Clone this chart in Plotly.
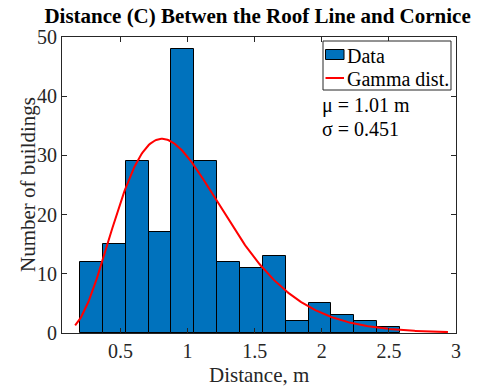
import math
import numpy as np
import plotly.graph_objects as go

# Histogram of measured roof-line-to-cornice distances
bin_start = 0.199
bin_width = 0.1702
counts = [12, 15, 29, 17, 48, 29, 12, 11, 13, 2, 5, 3, 2, 1]

# Fitted gamma distribution (mean and standard deviation)
mu = 1.01
sigma = 0.451

x_ticks = [0.5, 1, 1.5, 2, 2.5, 3]
y_ticks = [0, 10, 20, 30, 40, 50]

centers = [bin_start + (i + 0.5) * bin_width for i in range(len(counts))]
n_total = sum(counts)

# Gamma pdf scaled to the histogram counts
k = (mu / sigma) ** 2
theta = sigma ** 2 / mu
xs = np.linspace(0.162, 2.94, 300)
log_pdf = (k - 1) * np.log(xs) - xs / theta - math.lgamma(k) - k * math.log(theta)
ys = np.exp(log_pdf) * n_total * bin_width

serif = "Liberation Serif, Times New Roman, serif"
axis_col = "#262626"
bar_col = "#0072BD"
fit_col = "#FF0000"

# Plot-area geometry in pixels, used to place the compact legend box
W, H = 486, 388
ML, MR, MT, MB = 62, 30, 37, 55
PW, PH = W - ML - MR, H - MT - MB


def px(x):
    return (x - ML) / PW


def py(y):
    return (H - MB - y) / PH


fig = go.Figure()
fig.add_trace(go.Bar(
    x=centers, y=counts, width=bin_width,
    marker=dict(color=bar_col, line=dict(color="black", width=1)),
    name="Data", showlegend=False,
))
fig.add_trace(go.Scatter(
    x=xs, y=ys, mode="lines",
    line=dict(color=fit_col, width=2),
    name="Gamma dist.", showlegend=False,
))

# Legend box with a bar swatch and a line sample
fig.add_shape(type="rect", xref="paper", yref="paper",
              x0=px(323), x1=px(451), y0=py(90), y1=py(41),
              line=dict(color=axis_col, width=1), fillcolor="white", layer="above")
fig.add_shape(type="rect", xref="paper", yref="paper",
              x0=px(325.5), x1=px(344), y0=py(59.5), y1=py(49.5),
              line=dict(color="black", width=1), fillcolor=bar_col, layer="above")
fig.add_shape(type="line", xref="paper", yref="paper",
              x0=px(325.5), x1=px(344), y0=py(78), y1=py(78),
              line=dict(color=fit_col, width=2), layer="above")
for label, ycen in [("Data", 55.5), ("Gamma dist.", 78.5)]:
    fig.add_annotation(
        x=px(344.5), y=py(ycen), xref="paper", yref="paper",
        xanchor="left", yanchor="middle", showarrow=False,
        text=label, font=dict(family=serif, size=20, color="black"),
    )

# Fit statistics written under the legend
for text, ycen in [(f"μ = {mu:.2f} m", 105.5), (f"σ = {sigma:.3f}", 128.5)]:
    fig.add_annotation(
        x=px(320), y=py(ycen), xref="paper", yref="paper",
        xanchor="left", yanchor="middle", align="left", showarrow=False,
        text=text, font=dict(family=serif, size=20, color="black"),
    )

# Axis titles placed as text so the plot area keeps its fixed size
fig.add_annotation(
    x=0.5, y=py(375), xref="paper", yref="paper",
    xanchor="center", yanchor="middle", showarrow=False,
    text="Distance, m", font=dict(family=serif, size=21, color=axis_col),
)
fig.add_annotation(
    x=px(28), y=0.5, xref="paper", yref="paper",
    xanchor="center", yanchor="middle", showarrow=False, textangle=-90,
    text="Number of buildings", font=dict(family=serif, size=21, color=axis_col),
)

fig.update_layout(
    width=W, height=H,
    margin=dict(l=ML, r=MR, t=MT, b=MB),
    paper_bgcolor="white", plot_bgcolor="white",
    bargap=0,
    title=dict(
        text="<b>Distance (C) Betwen the Roof Line and Cornice</b>",
        x=0.53, xanchor="center", y=0.959, yanchor="middle",
        font=dict(family=serif, size=21, color="black"),
    ),
    font=dict(family=serif, size=20, color=axis_col),
    showlegend=False,
)

fig.update_xaxes(
    range=[0.064, 3.0], tickvals=x_ticks, ticktext=[f"{v:g}" for v in x_ticks],
    ticks="inside", ticklen=5, tickcolor=axis_col,
    showline=True, linecolor=axis_col, linewidth=1, mirror="allticks",
    showgrid=False, zeroline=False, automargin=False,
    tickfont=dict(family=serif, size=20, color=axis_col),
)
fig.update_yaxes(
    range=[0, 50], tickvals=y_ticks,
    ticks="inside", ticklen=5, tickcolor=axis_col,
    showline=True, linecolor=axis_col, linewidth=1, mirror="allticks",
    showgrid=False, zeroline=False, automargin=False,
    tickfont=dict(family=serif, size=20, color=axis_col),
)

fig.write_html("out.html")
